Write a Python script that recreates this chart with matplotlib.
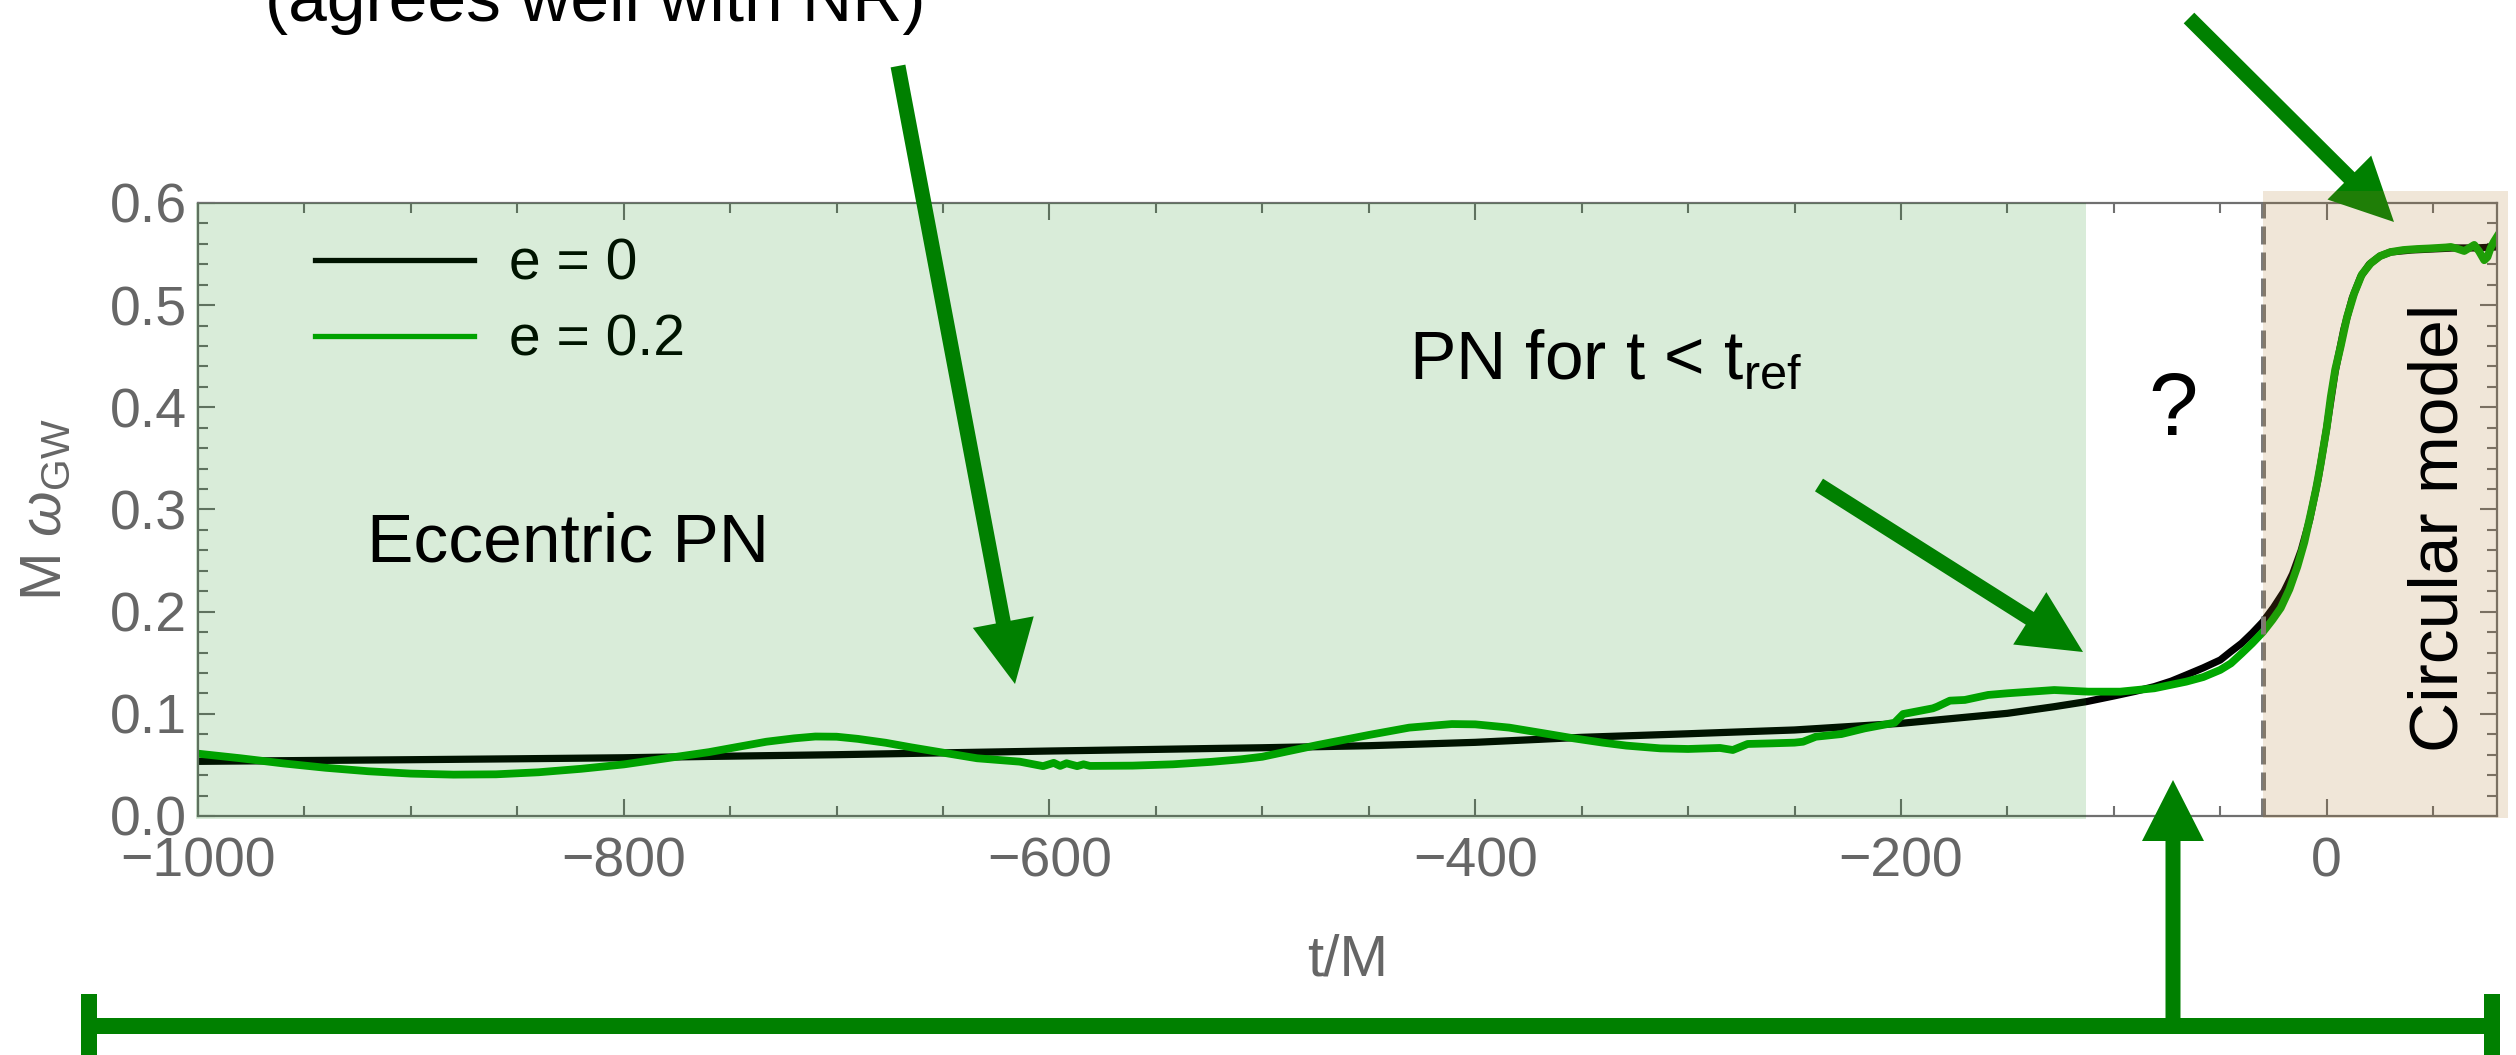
import matplotlib
matplotlib.use("Agg")
import matplotlib.pyplot as plt
from matplotlib.patches import Rectangle, FancyArrow
from matplotlib.ticker import MultipleLocator

plt.rcParams["font.family"] = ["Liberation Sans", "DejaVu Sans"]
plt.rcParams["mathtext.fontset"] = "custom"
plt.rcParams["mathtext.rm"] = "Liberation Sans"
plt.rcParams["mathtext.it"] = "Liberation Sans:italic"

# ---------------------------------------------------------------- data
# quasi-circular (e = 0) frequency evolution
t_circ = [-1000, -950, -900, -850, -800, -760, -700, -650, -600, -550, -520,
          -500, -450, -400, -350, -300, -280, -250, -200, -150, -128, -113,
          -100, -90, -81, -73, -66, -58, -50, -45, -40, -35, -30, -25, -20,
          -16, -12, -8, -4, 0, 4, 8, 12, 16, 20, 25, 30, 40, 50, 60, 70, 80]
w_circ = [0.0535, 0.0543, 0.0551, 0.0560, 0.0570, 0.0583, 0.0600, 0.0618,
          0.0636, 0.0652, 0.0662, 0.0668, 0.0688, 0.0721, 0.0770, 0.0805,
          0.0820, 0.0842, 0.0907, 0.1005, 0.1070, 0.1119, 0.1175, 0.1220,
          0.1266, 0.1320, 0.1380, 0.1450, 0.1527, 0.1610, 0.1690, 0.1790,
          0.1900, 0.2040, 0.2200, 0.2370, 0.2600, 0.2900, 0.3300, 0.3800,
          0.4350, 0.4760, 0.5070, 0.5280, 0.5400, 0.5480, 0.5520, 0.5540,
          0.5550, 0.5560, 0.5560, 0.5570]

# eccentric (e = 0.2) frequency evolution
t_ecc = [-1000, -980, -960, -940, -920, -900, -880, -860, -840, -820, -800,
         -780, -760, -750, -733, -720, -710, -700, -690, -677, -665, -650,
         -634, -614, -603, -598, -595, -592, -587, -584, -581, -561, -542,
         -524, -510, -500, -489, -474, -450, -431, -411, -400, -384, -368,
         -354, -340, -329, -313, -300, -285, -279, -272, -261, -250, -246,
         -240, -228, -217, -203, -199, -185, -183, -177, -170, -159, -150,
         -128, -112, -97, -81, -66, -58, -50, -45, -40, -35, -30, -25.5,
         -21.6, -17.5, -13.8, -10.5, -7.5, -5, -2.8, 0, 1.9, 4, 6.6, 9.5,
         12.9, 16.5, 20.7, 25, 30, 36, 42.6, 48, 52, 56, 58.3, 61, 64.6, 67,
         69.3, 71.5, 74, 75.5, 77, 78.5, 80]
w_ecc = [0.0610, 0.0565, 0.0515, 0.0472, 0.0438, 0.0415, 0.0405, 0.0408,
         0.0428, 0.0462, 0.0505, 0.0565, 0.0625, 0.0663, 0.0727, 0.0760,
         0.0778, 0.0776, 0.0755, 0.0717, 0.0672, 0.0620, 0.0565, 0.0532,
         0.0488, 0.0520, 0.0490, 0.0516, 0.0488, 0.0506, 0.0490, 0.0493,
         0.0506, 0.0530, 0.0555, 0.0580, 0.0629, 0.0695, 0.0793, 0.0865,
         0.0900, 0.0897, 0.0865, 0.0810, 0.0761, 0.0718, 0.0689, 0.0662,
         0.0656, 0.0666, 0.0646, 0.0705, 0.0711, 0.0718, 0.0727, 0.0776,
         0.0802, 0.0858, 0.0913, 0.0998, 0.1054, 0.1070, 0.1129, 0.1136,
         0.1185, 0.1201, 0.1233, 0.1217, 0.1217, 0.1250, 0.1315, 0.1360,
         0.1430, 0.1494, 0.1590, 0.1690, 0.1800, 0.1920, 0.2036, 0.2220,
         0.2440, 0.2680, 0.2960, 0.3200, 0.3450, 0.3800, 0.4100, 0.4370,
         0.4600, 0.4880, 0.5115, 0.5300, 0.5410, 0.5480, 0.5520, 0.5540,
         0.5550, 0.5555, 0.5560, 0.5565, 0.5570, 0.5555, 0.5530, 0.5560,
         0.5590, 0.5530, 0.5440, 0.5470, 0.5560, 0.5620, 0.5670]

series_labels = ["e = 0", "e = 0.2"]
t_ref = -113      # end of the PN region
t_match = -30     # start of the circular model
x_range = (-1000, 80)
y_range = (0.0, 0.6)

# ---------------------------------------------------------------- figure
W, H = 2516, 1055
fig = plt.figure(figsize=(W / 100, H / 100), dpi=100)
ax = fig.add_axes([198 / W, 1 - 816 / H, (2497 - 198) / W, (816 - 203) / H])

ax.plot(t_circ, w_circ, color="black", lw=5.2, zorder=2, label=series_labels[0])
ax.plot(t_ecc, w_ecc, color="#00a800", lw=5.6, zorder=2.1, label=series_labels[1])
ax.axvline(t_match, color="#7a7a7a", lw=3.6, ls=(0, (3.6, 1.6)), zorder=2.2)

ax.set_xlim(*x_range)
ax.set_ylim(*y_range)

ax.xaxis.set_major_locator(MultipleLocator(200))
ax.xaxis.set_minor_locator(MultipleLocator(50))
ax.yaxis.set_major_locator(MultipleLocator(0.1))
ax.yaxis.set_minor_locator(MultipleLocator(0.02))
ax.tick_params(which="both", direction="in", top=True, right=True,
               colors="#707070", labelcolor="#666666", labelsize=40)
ax.tick_params(which="major", length=12, width=1.5)
ax.tick_params(which="minor", length=7.5, width=1.5)
ax.tick_params(axis="y", pad=8)
ax.tick_params(axis="x", pad=15)
for sp in ax.spines.values():
    sp.set_color("#707070")
    sp.set_linewidth(1.6)

ax.set_xlabel("t/M", fontsize=42, color="#666666", va="baseline")
ax.xaxis.set_label_coords(0.5, (816 - 976) / 613)
ax.set_ylabel(r"M $\omega_{\mathregular{GW}}$", fontsize=42, color="#666666",
              va="baseline")
ax.yaxis.set_label_coords((61 - 198) / 2299, 0.5)

leg = ax.legend(loc="upper left", bbox_to_anchor=(0.0509, 0.943), frameon=False,
                fontsize=41, handlelength=2.8, handletextpad=0.6,
                labelspacing=0.38, borderpad=0, borderaxespad=0)
for line in leg.get_lines():
    line.set_linewidth(3.8)
leg.set_zorder(1.8)

# ---------------------------------------------------------------- overlay (pixel units)
ov = fig.add_axes([0, 0, 1, 1], zorder=5)
ov.set_xlim(0, W)
ov.set_ylim(H, 0)
ov.axis("off")


def to_px(t, v):
    x, y = ax.transData.transform((t, v))
    return x, H - y


ARROW = "#008000"


def arrow(x0, y0, x1, y1, head_len=63):
    ov.add_patch(FancyArrow(x0, y0, x1 - x0, y1 - y0, width=15, head_width=62,
                            head_length=head_len, length_includes_head=True,
                            color=ARROW, lw=0, zorder=1))


arrow(898, 66, 1015, 684)
arrow(1819, 485, 2083, 652)
arrow(2189, 18, 2394, 222)

# bracket spanning the full waveform, with the arrow marking the gap
ov.add_patch(Rectangle((81, 1018), 2500 - 81, 16, color=ARROW, lw=0, zorder=1))
ov.add_patch(Rectangle((81, 994), 16, 70, color=ARROW, lw=0, zorder=1))
ov.add_patch(Rectangle((2484, 994), 16, 70, color=ARROW, lw=0, zorder=1))
arrow(2173, 1026, 2173, 780, head_len=61)

# shaded model regions
gx0, gy0 = to_px(x_range[0], y_range[1])
gx1, gy1 = to_px(t_ref, y_range[0])
ov.add_patch(Rectangle((gx0 - 2, gy0), gx1 - gx0 + 2, gy1 - gy0 + 3,
                       color="#008000", alpha=0.15, lw=0, zorder=2))
bx0, by0 = to_px(t_match, 0.612)
bx1, by1 = to_px(85, y_range[0])
ov.add_patch(Rectangle((bx0, by0), bx1 - bx0, by1 - by0 + 2,
                       color=(172 / 255, 117 / 255, 39 / 255), alpha=0.18, lw=0,
                       zorder=2))

# annotations
ov.text(265, 21, "(agrees well with NR)", fontsize=50, ha="left", va="baseline",
        zorder=3)
ov.text(1409, 379, r"PN for t < t$_{\mathregular{ref}}$", fontsize=50, ha="left",
        va="baseline", zorder=3)
ov.text(367, 561, "Eccentric PN", fontsize=50, ha="left", va="baseline", zorder=3)
ov.text(2173, 435, "?", fontsize=64, ha="center", va="baseline", zorder=3)
ov.text(2457, 528, "Circular model", fontsize=50, rotation=90,
        rotation_mode="anchor", ha="center", va="baseline", zorder=3)

fig.savefig("out.png", dpi=100)
